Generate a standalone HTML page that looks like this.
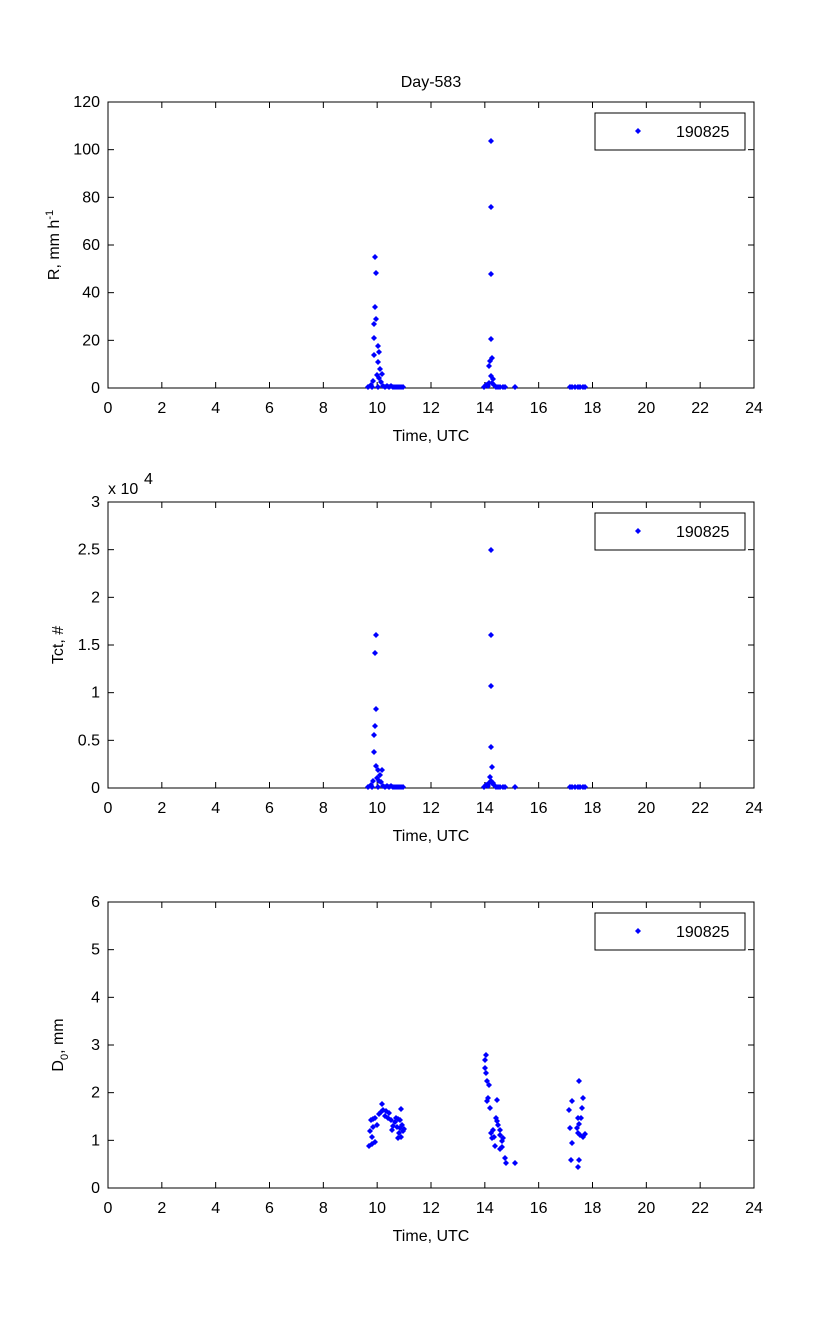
<!DOCTYPE html>
<html><head><meta charset="utf-8">
<style>html,body{margin:0;padding:0;background:#fff}svg{display:block}text{font-family:"Liberation Sans",sans-serif;font-size:16px;fill:#000}</style>
</head><body>
<svg id="s" width="833" height="1334" xmlns="http://www.w3.org/2000/svg"></svg>
<script>
const s=document.getElementById('s');let h='';
const L=108,R=754;
function axes(top,bot,ymax,ystep,ylabels){
 h+=`<rect x="${L}" y="${top}" width="${R-L}" height="${bot-top}" fill="#fff" stroke="#000" stroke-width="1"/>`;
 for(let i=0;i<=12;i++){const x=L+(R-L)*i/12;
  h+=`<line x1="${x}" y1="${bot}" x2="${x}" y2="${bot-6}" stroke="#000"/><line x1="${x}" y1="${top}" x2="${x}" y2="${top+6}" stroke="#000"/>`;
  h+=`<text x="${x}" y="${bot+25}" text-anchor="middle">${i*2}</text>`;}
 const n=ylabels.length-1;
 for(let i=0;i<=n;i++){const y=bot-(bot-top)*i/n;
  h+=`<line x1="${L}" y1="${y}" x2="${L+6}" y2="${y}" stroke="#000"/><line x1="${R}" y1="${y}" x2="${R-6}" y2="${y}" stroke="#000"/>`;
  h+=`<text x="${L-8}" y="${y+5}" text-anchor="end">${ylabels[i]}</text>`;}
 h+=`<text x="431" y="${bot+53}" text-anchor="middle">Time, UTC</text>`;
 h+=`<rect x="595" y="${top+11}" width="150" height="37" fill="#fff" stroke="#000"/>`;
 mk(638,top+29);
 h+=`<text x="676" y="${top+35}">190825</text>`;
}
function mk(x,y){h+=`<path d="M${x-3} ${y}L${x} ${y-3}L${x+3} ${y}L${x} ${y+3}Z" fill="#0000ff"/>`;}
function pts(a,dy){a.forEach(p=>mk(p[0],p[1]+(dy||0)));}
h+=`<text x="431" y="87" text-anchor="middle">Day-583</text>`;
axes(102,388,120,20,[0,20,40,60,80,100,120]);
h+=`<text transform="translate(59,245) rotate(-90)" text-anchor="middle">R, mm h<tspan dy="-6" font-size="11">-1</tspan></text>`;
axes(502,788,3,0.5,[0,0.5,1,1.5,2,2.5,3]);
h+=`<text transform="translate(63,645) rotate(-90)" text-anchor="middle">Tct, #</text>`;
h+=`<text x="108" y="494">x 10</text><text x="144" y="484" font-size="12">4</text>`;
axes(902,1188,6,1,[0,1,2,3,4,5,6]);
h+=`<text transform="translate(63,1045) rotate(-90)" text-anchor="middle">D<tspan dy="5" font-size="11">0</tspan><tspan dy="-5">, mm</tspan></text>`;
const low=[[368,387],[371,385],[373,381],[372,387],[378,387],[381,382],[383,386],[385,387],[387,386],[389,387],[391,386],[393,387],[395,387],[397,387],[399,387],[401,387],[403,387],
 [484,387],[486,385],[488,386],[489,383],[492,383],[494,385],[496,387],[498,387],[500,387],[503,387],[505,387],[515,387],
 [570,387],[572,387],[575,387],[578,387],[580,387],[583,387],[585,387]];
pts(low);pts(low,400);
pts([[375,257],[376,273],[375,307],[376,319],[374,324],[374,338],[374,355],[378,346],[379,352],[378,362],[380,369],[377,375],[379,378],[382,374],
 [491,141],[491,207],[491,274],[491,339],[492,358],[490,361],[489,366],[491,376],[493,379]]);
pts([[376,635],[375,653],[376,709],[375,726],[374,735],[374,752],[376,766],[378,770],[380,775],[377,778],[379,781],[382,770],
 [491,550],[491,635],[491,686],[491,747],[492,767],[490,777],[491,781],[493,783]]);
pts([[369,1146],[372,1144],[375,1142],[372,1137],[370,1131],[373,1127],[371,1120],[373,1119],[375,1118],[377,1125],[379,1114],[381,1112],[383,1110],[382,1104],[385,1116],[386,1111],[389,1113],[388,1118],[391,1120],[392,1130],[393,1126],[395,1122],[396,1118],[398,1119],[397,1127],[400,1128],[399,1133],[401,1137],[403,1131],[401,1109],[400,1120],[402,1125],[404,1129],[398,1138],
 [486,1055],[485,1060],[485,1068],[486,1073],[487,1081],[489,1085],[488,1098],[487,1101],[497,1100],[490,1108],[496,1118],[497,1121],[498,1125],[493,1130],[491,1133],[492,1138],[494,1137],[500,1130],[500,1135],[503,1138],[502,1141],[495,1146],[502,1147],[500,1149],[505,1158],[506,1163],[515,1163],
 [572,1101],[569,1110],[570,1128],[572,1143],[571,1160],[579,1081],[583,1098],[582,1108],[581,1118],[579,1124],[577,1128],[578,1133],[580,1135],[585,1134],[583,1137],[579,1160],[578,1167],[578,1118]]);
s.innerHTML=h;
</script>
</body></html>
